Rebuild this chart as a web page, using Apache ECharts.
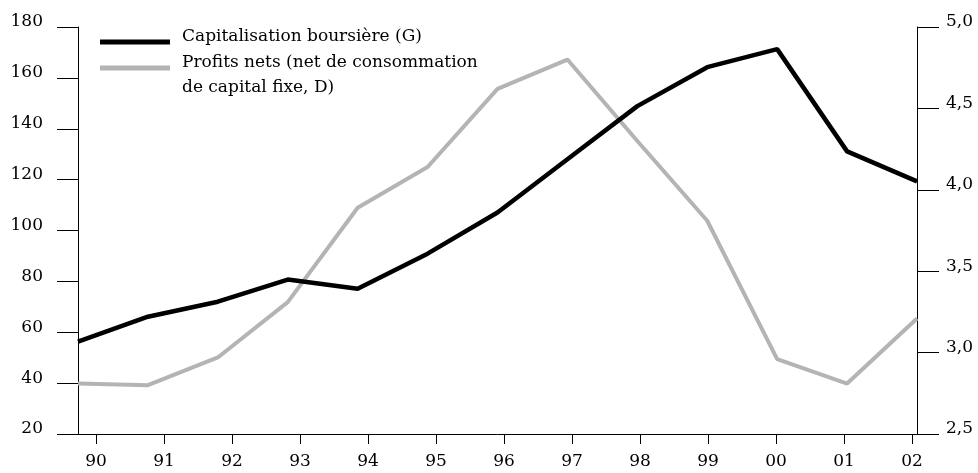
<!DOCTYPE html>
<html>
<head>
<meta charset="utf-8">
<script src="https://cdn.jsdelivr.net/npm/echarts@6/dist/echarts.min.js"></script>
<style>
  html, body { margin: 0; padding: 0; background: #fff; }
  #chart { width: 978px; height: 473px; }
</style>
</head>
<body>
<div id="chart"></div>
<script>
// années (axe horizontal)
const years = ['90', '91', '92', '93', '94', '95', '96', '97', '98', '99', '00', '01', '02']
// capitalisation boursière, échelle de gauche
const capitalisation = [56.3, 66.1, 72.0, 80.7, 77.1, 90.9, 107.1, 128.0, 148.9, 164.2, 171.3, 131.1, 119.3]
// profits nets, échelle de droite
const profits = [2.81, 2.80, 2.97, 3.31, 3.89, 4.14, 4.62, 4.80, 4.30, 3.81, 2.96, 2.81, 3.21]

const capName = 'Capitalisation boursière (G)'
const profName = 'Profits nets (net de consommation\nde capital fixe, D)'

const font = 'DejaVu Serif'
const chart = echarts.init(document.getElementById('chart'))

const legendText = { fontFamily: font, fontSize: 17, color: '#000' }

chart.setOption({
  animation: false,
  textStyle: { fontFamily: font, color: '#000' },
  grid: { left: 78, right: 61, top: 27, bottom: 39, outerBoundsMode: 'none' },
  legend: [
    {
      data: [capName],
      left: 100,
      top: 28.5,
      padding: 0,
      icon: 'rect',
      itemWidth: 70,
      itemHeight: 5,
      formatter: name => '{a|' + name + '}',
      textStyle: {
        ...legendText,
        rich: { a: { ...legendText, lineHeight: 25, padding: [0, 0, 10, 7] } }
      }
    },
    {
      data: [profName],
      left: 100,
      top: 39.5,
      padding: 0,
      icon: 'rect',
      itemWidth: 70,
      itemHeight: 5,
      formatter: name => {
        const parts = name.split('\n')
        return '{p|' + parts[0] + '}\n{q|' + parts[1] + '}'
      },
      textStyle: {
        ...legendText,
        rich: {
          p: { ...legendText, lineHeight: 25, padding: [15, 0, 0, 7] },
          q: { ...legendText, lineHeight: 25, padding: [15, 0, 0, 7] }
        }
      }
    }
  ],
  xAxis: [
    {
      // axe des données, caché
      type: 'category',
      position: 'top',
      data: years,
      boundaryGap: false,
      show: false
    },
    {
      // axe des étiquettes, légèrement décalé
      type: 'value',
      position: 'bottom',
      min: -0.2647,
      max: 12.074,
      axisLine: { show: true, onZero: false, lineStyle: { color: '#000', width: 1 } },
      axisTick: { show: true, inside: false, length: 10, customValues: years.map((y, i) => i), lineStyle: { color: '#000' } },
      axisLabel: {
        customValues: years.map((y, i) => i),
        formatter: v => years[Math.round(v)],
        fontFamily: font,
        fontSize: 17,
        color: '#000',
        margin: 19
      },
      splitLine: { show: false }
    }
  ],
  yAxis: [
    {
      type: 'value',
      position: 'left',
      min: 20,
      max: 180,
      interval: 20,
      axisLine: { show: true, onZero: false, lineStyle: { color: '#000', width: 1 } },
      axisTick: { show: true, inside: false, length: 21, lineStyle: { color: '#000' } },
      axisLabel: { fontFamily: font, fontSize: 17, color: '#000', margin: 35, verticalAlign: 'bottom', lineHeight: 10 },
      splitLine: { show: false }
    },
    {
      type: 'value',
      position: 'right',
      min: 2.5,
      max: 5,
      interval: 0.5,
      axisLine: { show: true, onZero: false, lineStyle: { color: '#000', width: 1 } },
      axisTick: { show: true, inside: false, length: 22, lineStyle: { color: '#000' } },
      axisLabel: {
        fontFamily: font,
        fontSize: 17,
        color: '#000',
        margin: 29,
        verticalAlign: 'bottom',
        lineHeight: 10,
        formatter: v => v.toFixed(1).replace('.', ',')
      },
      splitLine: { show: false }
    }
  ],
  series: [
    {
      name: profName,
      type: 'line',
      xAxisIndex: 0,
      yAxisIndex: 1,
      data: profits,
      symbol: 'none',
      color: '#b4b4b4',
      lineStyle: { width: 4, color: '#b4b4b4' }
    },
    {
      name: capName,
      type: 'line',
      xAxisIndex: 0,
      yAxisIndex: 0,
      data: capitalisation,
      symbol: 'none',
      color: '#000',
      lineStyle: { width: 4.5, color: '#000' }
    }
  ]
})
</script>
</body>
</html>
